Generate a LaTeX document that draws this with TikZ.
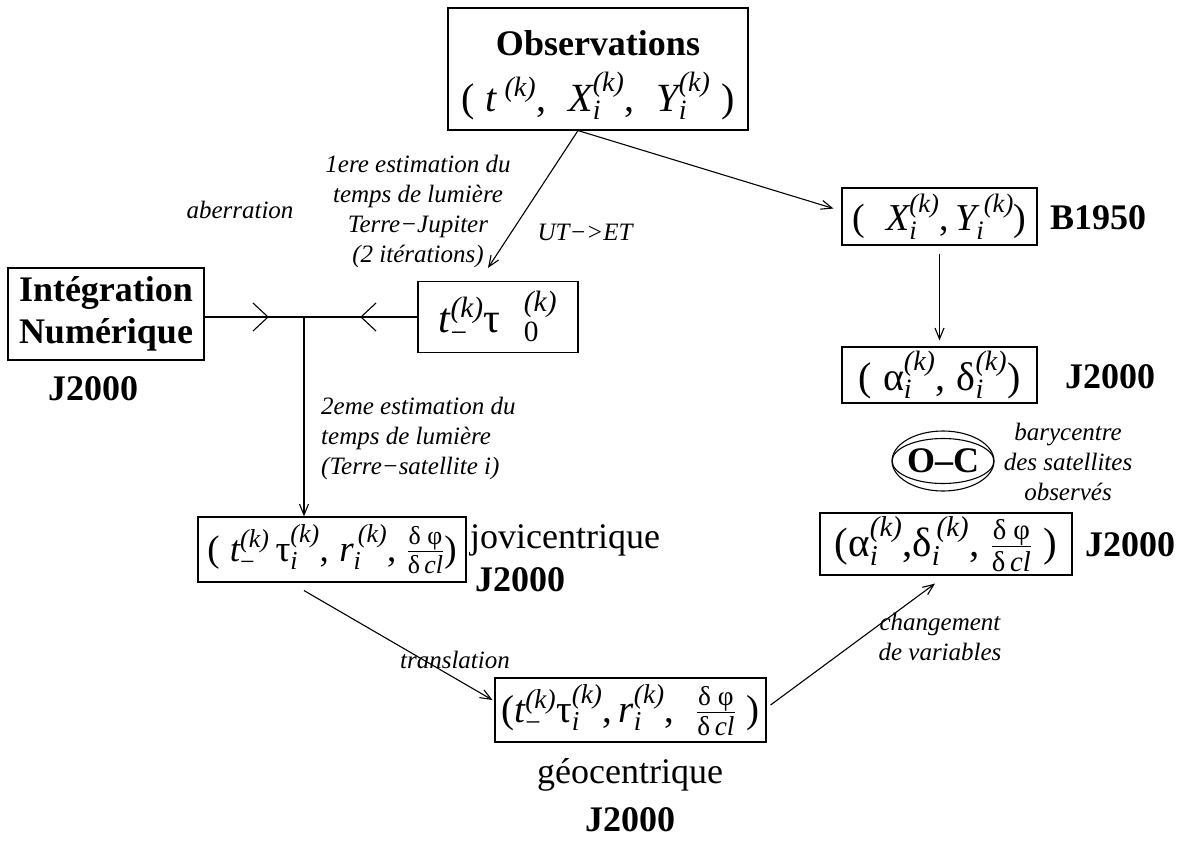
\RequirePackage{fix-cm}
\documentclass[tikz,border=0pt]{standalone}
\usepackage{amsmath}
\usepackage{fontspec}
\setmainfont{Liberation Serif}
\usetikzlibrary{arrows.meta,shapes.geometric,calc}

\newcommand{\mi}[1]{\textit{#1}}
\newcommand{\mr}[1]{\textup{#1}}
\newcommand{\kk}{\mi{(k)}}
\newcommand{\dfr}{\frac{\mr{δ φ}}{\mr{δ}\,\mi{cl}}}

\tikzset{
  box/.style={draw, line width=1.1pt, inner sep=0pt, font=\fontsize{38}{42}\selectfont},
  lab/.style={font=\fontsize{25}{30}\selectfont\itshape, align=center, inner sep=0pt},
  reg/.style={font=\fontsize{36}{40}\selectfont, inner sep=0pt},
  bld/.style={font=\fontsize{36}{40}\selectfont\bfseries, inner sep=0pt},
  arr/.style={line width=1.1pt, -{Straight Barb[length=11pt,width=9pt,line width=1.1pt]}},
  ln/.style={line width=1.1pt},
}

\begin{document}
\begin{tikzpicture}[x=1pt,y=-1pt]
\useasboundingbox (0,0) rectangle (1189,854);

% boxes
\node[box, minimum width=300, minimum height=122] (obs) at (598,69) {};
\node[bld] (obst) at (598,43) {Observations};
\node[inner sep=0pt, font=\fontsize{40}{44}\selectfont] (obsf) at (598,96)
  {$\mr{(}\;\mi{t}^{\;\kk}\mr{,}\;\; \mi{X}_{\mi{i}}^{\kk}\mr{,}\;\; \mi{Y}_{\mi{i}}^{\kk}\;\mr{)}$};
\node[box, minimum width=196, minimum height=92, align=center, font=\fontsize{36}{42}\selectfont\bfseries] (integ) at (106,314)
  {Intégration\\Numérique};
\node[box, minimum width=160, minimum height=71, font=\fontsize{42}{46}\selectfont] (tt) at (498,317)
  {$\mi{t}^{\kk}_{\mr{−}}\mr{τ}\;\;{}_{\mr{0}}^{\kk}$};
\node[box, minimum width=195, minimum height=57] (bx) at (939.5,216.5)
  {$\mr{(}\;\;\mi{X}_{\mi{i}}^{\kk}\mr{,}\,\mi{Y}_{\mi{i}}^{\;\kk}\mr{)}$};
\node[box, minimum width=195, minimum height=56, font=\fontsize{40}{44}\selectfont] (ad) at (939.5,375)
  {$\mr{(}\;\mr{α}_{\mi{i}}^{\kk}\mr{,}\;\mr{δ}_{\mi{i}}^{\kk}\mr{)}$};
\node[box, minimum width=252, minimum height=62, font=\fontsize{41}{44}\selectfont] (adp) at (946,544)
  {$\mr{(}\mr{α}_{\mi{i}}^{\kk}\mr{,}\mr{δ}_{\mi{i}}^{\,\kk}\mr{,}\;\dfr\;\mr{)}$};
\node[box, minimum width=268, minimum height=65, font=\fontsize{37}{42}\selectfont] (jovi) at (332,549.5)
  {$\mr{(}\;\mi{t}^{\kk}_{\mr{−}}\,\mr{τ}_{\mi{i}}^{\kk}\mr{,}\;\mi{r}_{\mi{i}}^{\,\kk}\mr{,}\;\dfr\mr{)}$};
\node[box, minimum width=271, minimum height=64, font=\fontsize{39}{42}\selectfont] (geo) at (630.5,710)
  {$\mr{(}\mi{t}^{\kk}_{\mr{−}}\mr{τ}_{\mi{i}}^{\kk}\mr{,}\,\mi{r}_{\mi{i}}^{\kk}\mr{,}\;\;\dfr\;\mr{)}$};

% O-C
\node[draw, ellipse, line width=1.1pt, minimum width=102, minimum height=60, inner sep=0pt] (oc) at (943,461) {};
\node[draw, ellipse, line width=1.1pt, minimum width=88, minimum height=45, inner sep=0pt, font=\fontsize{36}{40}\selectfont\bfseries] (oci) at (943,461) {O–C};

% side labels
\node[bld] (lb1950) at (1098,218) {B1950};
\node[bld] (lj1) at (1110,377) {J2000};
\node[bld] (lj2) at (1130,545) {J2000};
\node[bld] (lj3) at (93,389) {J2000};
\node[reg] (ljov) at (565,540) {jovicentrique};
\node[bld] (lj4) at (520,580) {J2000};
\node[reg] (lgeo) at (630,775) {géocentrique};
\node[bld] (lj5) at (630,820) {J2000};

\node[lab] (lab1) at (418,211) {1ere estimation du\\temps de lumière\\Terre−Jupiter\\(2 itérations)};
\node[lab] (labab) at (240,210) {aberration};
\node[lab] (labut) at (585,232) {UT−>ET};
\node[lab, align=left, anchor=west] (lab2) at (321,438) {2eme estimation du\\temps de lumière\\(Terre−satellite i)};
\node[lab] (labbar) at (1068,462) {barycentre\\des satellites\\observés};
\node[lab] (labtr) at (455,660) {translation};
\node[lab] (labch) at (940,637) {changement\\de variables};

% connectors
\coordinate (o) at ($(obs.south)+(-20,0)$);
\draw[arr] (o) -- ($(tt.north)+(-10,-13)$);
\draw[arr] (o) -- ($(bx.west)+(-8,-8)$);
\draw[arr, shorten <=8pt, shorten >=6pt] (bx.south) -- (ad.north);
\draw[ln] (integ.east |- tt.west) -- (tt.west);
\coordinate (J) at (304,0 |- tt.west);
\draw[ln] ($(J)+(-51,-14)$) -- ($(J)+(-36,0)$) -- ($(J)+(-51,14)$);
\draw[ln] ($(J)+(72,-14)$) -- ($(J)+(57,0)$) -- ($(J)+(72,14)$);
\draw[arr] (J) -- (J |- jovi.north);
\draw[arr] ($(jovi.south)+(-28,8)$) -- ($(geo.west)+(-2,-10)$);
\draw[arr] ($(geo.east)+(4,-5)$) -- ($(adp.south)+(-11,8)$);
\end{tikzpicture}
\end{document}
